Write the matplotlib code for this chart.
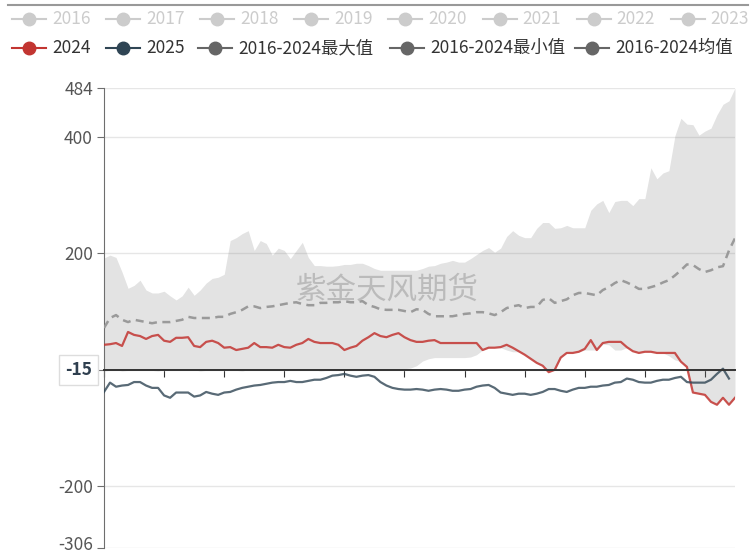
import numpy as np
import matplotlib.pyplot as plt
import matplotlib.transforms as mtransforms

plt.rcParams['font.family'] = ['Noto Sans CJK SC', 'DejaVu Sans']

# legend entries
hidden_years = ['2016', '2017', '2018', '2019', '2020', '2021', '2022', '2023']
shown_names = ['2024', '2025', '2016-2024最大值', '2016-2024最小值', '2016-2024均值']

# daily series
max_vals = [192, 197, 193, 168, 140, 145, 154, 137, 132, 132,
            135, 127, 120, 127, 142, 128, 137, 149, 157, 159,
            164, 222, 227, 234, 239, 205, 222, 217, 197, 209,
            205, 191, 205, 219, 193, 179, 179, 178, 178, 179,
            181, 181, 183, 183, 179, 174, 171, 171, 171, 171,
            171, 171, 171, 174, 178, 179, 183, 185, 188, 185,
            185, 191, 198, 205, 210, 202, 209, 229, 239, 231,
            227, 227, 243, 253, 253, 243, 244, 248, 244, 244,
            244, 274, 285, 291, 270, 289, 291, 291, 282, 294,
            294, 347, 328, 338, 342, 402, 432, 422, 421, 403,
            410, 415, 438, 456, 462, 484]
min_vals = [-2, -1, 0, -2, -1, 0, 1, 0, -1, -2,
            0, 1, 0, -1, 0, 0, -2, -1, 0, 1,
            0, 0, -1, -2, 0, 0, 1, 0, -1, 0,
            0, -1, 0, 1, 0, 0, -2, -1, 0, 0,
            1, 0, -1, 0, 0, 1, 0, -1, 0, 0,
            2, 3, 7, 15, 19, 21, 21, 21, 21, 21,
            21, 22, 26, 34, 38, 38, 38, 34, 31, 31,
            26, 19, 12, 7, -4, 0, 21, 29, 29, 31,
            34, 34, 34, 44, 43, 34, 34, 38, 32, 29,
            31, 31, 29, 29, 24, 17, 14, 5, -39, -41,
            -43, -55, -60, -48, -60, -48]
mean_vals = [72, 89, 94, 86, 82, 86, 84, 82, 80, 82,
             82, 82, 84, 86, 91, 89, 89, 89, 89, 91,
             91, 96, 99, 103, 109, 109, 106, 108, 109, 111,
             113, 115, 116, 113, 111, 111, 115, 115, 116, 116,
             118, 116, 116, 118, 111, 108, 104, 103, 103, 103,
             101, 99, 104, 103, 96, 92, 92, 92, 92, 94,
             96, 97, 99, 99, 97, 94, 99, 106, 109, 111,
             106, 108, 108, 120, 123, 115, 118, 121, 128, 132,
             132, 130, 128, 137, 142, 149, 154, 150, 145, 139,
             139, 142, 145, 150, 154, 162, 171, 181, 180, 173,
             168, 171, 176, 178, 205, 226]
y2024 = [43, 44, 46, 41, 65, 60, 58, 53, 58, 60,
         50, 48, 55, 55, 56, 41, 39, 48, 50, 46,
         38, 39, 34, 36, 38, 46, 39, 39, 38, 43,
         39, 38, 43, 46, 53, 48, 46, 46, 46, 43,
         34, 38, 41, 50, 56, 63, 58, 56, 60, 63,
         56, 51, 48, 48, 50, 51, 46, 46, 46, 46,
         46, 46, 46, 34, 38, 38, 39, 43, 38, 32,
         26, 19, 12, 7, -4, 0, 21, 29, 29, 31,
         36, 51, 34, 46, 48, 48, 48, 39, 32, 29,
         31, 31, 29, 29, 29, 29, 14, 5, -39, -41,
         -43, -55, -60, -48, -60, -48]
y2025 = [-38, -22, -29, -27, -26, -21, -21, -27, -31, -31,
         -44, -48, -39, -39, -39, -46, -44, -38, -41, -43,
         -39, -38, -34, -31, -29, -27, -26, -24, -22, -21,
         -21, -19, -21, -21, -19, -17, -17, -14, -10, -9,
         -7, -10, -12, -10, -9, -12, -21, -27, -31, -33,
         -34, -34, -33, -34, -36, -34, -33, -34, -36, -36,
         -34, -33, -29, -27, -26, -31, -39, -41, -43, -41,
         -41, -43, -41, -38, -33, -33, -36, -38, -34, -31,
         -31, -29, -29, -27, -26, -22, -21, -15, -17, -21,
         -22, -22, -19, -17, -17, -14, -12, -21, -22, -22,
         -22, -17, -7, 2, -15, np.nan]

y_ticks = [-306, -200, 0, 200, 400, 484]
y_labels = ['-306', '-200', '', '200', '400', '484']
pointer_label = '-15'

RED = '#c23531'
NAVY = '#2f4554'
GREY = '#666666'
OFF = '#cccccc'

days = np.arange(len(y2024))

W, H = 752, 554
fig = plt.figure(figsize=(W / 100, H / 100), dpi=100)
ax = fig.add_axes([104 / W, 6 / H, 631 / W, 460 / H])

ax.fill_between(days, min_vals, max_vals, color='#808080', alpha=0.22, lw=0, zorder=1)
ax.plot(days, mean_vals, color='#9a9a9a', lw=1.8, ls=(0, (3.2, 2.2)), zorder=3)
ax.plot(days, y2024, color=RED, lw=1.6, alpha=0.85, zorder=4)
ax.plot(days, y2025, color=NAVY, lw=1.6, alpha=0.8, zorder=4)

ax.set_xlim(0, len(days) - 1)
ax.set_ylim(-306, 484)
ax.set_yticks(y_ticks)
ax.set_yticklabels(y_labels)
ax.grid(axis='y', color='#e6e6e6', lw=1)
ax.set_axisbelow(True)

for s in ['top', 'right']:
    ax.spines[s].set_visible(False)
ax.spines['left'].set_color('#6e6e6e')
ax.spines['bottom'].set_position(('data', 0))
ax.spines['bottom'].set_color('#333333')
ax.spines['bottom'].set_linewidth(1.4)
ax.spines['bottom'].set_zorder(5)
ax.set_xticks(days[::10])
ax.tick_params(axis='x', length=5, color='#333333', labelbottom=False)
ax.tick_params(axis='y', length=5, color='#6e6e6e', labelcolor='#555555',
               labelsize=12.5, pad=3)
# nudge the lowest label up a little so it stays inside the canvas
low = ax.get_yticklabels()[0]
low.set_transform(low.get_transform() +
                  mtransforms.ScaledTranslation(0, 5 / 100, fig.dpi_scale_trans))

# boxed pointer label on the zero line
trans = mtransforms.blended_transform_factory(ax.transAxes, ax.transData)
ax.text(-0.019, 0, pointer_label, transform=trans, ha='right', va='center',
        fontsize=12.5, fontweight='bold', color='#2f3f4f', zorder=6,
        bbox=dict(boxstyle='square,pad=0.35', fc='white', ec='#dddddd', lw=1),
        clip_on=False)

# watermark
fig.text(387 / W, 1 - 290 / H, '紫金天风期货', ha='center', va='center',
         fontsize=22, color='#aaaaaa', alpha=0.7)

# legend drawn in pixel space
leg = fig.add_axes([0, 0, 1, 1])
leg.set_xlim(0, W)
leg.set_ylim(H, 0)
leg.axis('off')
leg.plot([8, 748], [5, 5], color='#999999', lw=1.5)


def legend_item(cx, cy, color, label, text_color):
    leg.plot([cx - 17, cx + 17], [cy, cy], color=color, lw=1.5)
    leg.plot([cx], [cy], 'o', color=color, ms=9)
    leg.text(cx + 23, cy, label, ha='left', va='center', fontsize=12.5,
             color=text_color)


for k, name in enumerate(hidden_years):
    legend_item(29 + 94.1 * k, 19, OFF, name, OFF)

row2_x = [29, 123, 215, 407, 592]
row2_colors = [RED, NAVY, GREY, GREY, GREY]
for cx, color, name in zip(row2_x, row2_colors, shown_names):
    legend_item(cx, 48, color, name, '#333333')

fig.savefig('out.png', dpi=100)
